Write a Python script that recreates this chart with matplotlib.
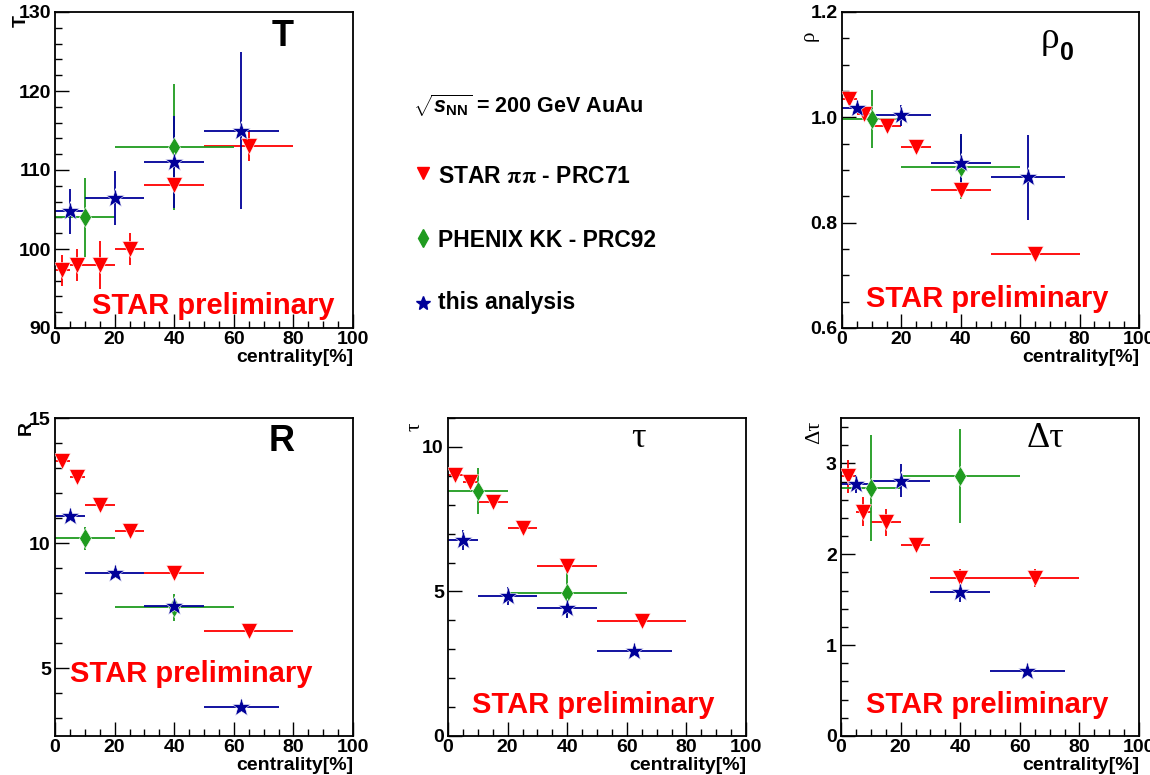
import numpy as np
import matplotlib
matplotlib.use("Agg")
import matplotlib.pyplot as plt
from matplotlib.ticker import MultipleLocator

plt.rcParams['font.family'] = 'Liberation Sans'
plt.rcParams['font.weight'] = 'bold'
plt.rcParams['mathtext.fontset'] = 'custom'
plt.rcParams['mathtext.rm'] = 'Liberation Sans:bold'
plt.rcParams['mathtext.it'] = 'Liberation Sans:italic:bold'
plt.rcParams['mathtext.bf'] = 'Liberation Sans:bold'

# centrality bins of each data set
star_edges = [0, 5, 10, 20, 30, 50, 80]
phenix_edges = [0, 20, 60]
ana_edges = [0, 10, 30, 50, 75]

# STAR pi-pi (PRC71)
star_T = [97.3, 98.0, 98.0, 100.0, 108.1, 113.1]
star_T_err = [2.0, 2.0, 3.0, 2.0, 1.0, 2.0]
star_rho = [1.035, 1.006, 0.983, 0.943, 0.862, 0.741]
star_rho_err = [0.01, 0.01, 0.01, 0.01, 0.01, 0.01]
star_R = [13.3, 12.65, 11.52, 10.5, 8.8, 6.5]
star_R_err = [0.2, 0.2, 0.2, 0.2, 0.2, 0.2]
star_tau = [9.04, 8.77, 8.10, 7.20, 5.89, 3.99]
star_tau_err = [0.2, 0.2, 0.2, 0.2, 0.2, 0.2]
star_dtau = [2.86, 2.47, 2.35, 2.10, 1.74, 1.735]
star_dtau_err = [0.18, 0.16, 0.15, 0.05, 0.10, 0.10]

# PHENIX K-K (PRC92)
phenix_T = [104.0, 112.9]
phenix_T_err = [5.0, 8.0]
phenix_rho = [0.997, 0.905]
phenix_rho_err = [0.055, 0.06]
phenix_R = [10.19, 7.44]
phenix_R_err = [0.45, 0.55]
phenix_tau = [8.47, 4.95]
phenix_tau_err = [0.8, 0.85]
phenix_dtau = [2.73, 2.86]
phenix_dtau_err = [0.58, 0.52]

# this analysis
ana_T = [104.8, 106.5, 111.05, 115.0]
ana_T_err = [2.85, 3.4, 5.8, 9.9]
ana_rho = [1.018, 1.004, 0.913, 0.886]
ana_rho_err = [0.01, 0.02, 0.055, 0.08]
ana_R = [11.1, 8.8, 7.5, 3.47]
ana_R_err = [0.15, 0.15, 0.2, 0.15]
ana_tau = [6.78, 4.84, 4.43, 2.94]
ana_tau_err = [0.35, 0.3, 0.35, 0.1]
ana_dtau = [2.77, 2.81, 1.58, 0.71]
ana_dtau_err = [0.1, 0.18, 0.11, 0.03]

RED = '#ff0000'
GREEN = '#1f9b1f'
BLUE = '#000099'

W, H = 1150, 775
fig = plt.figure(figsize=(W / 100, H / 100), dpi=100)


def px_axes(x0, y0, x1, y1):
    return fig.add_axes([x0 / W, 1 - y1 / H, (x1 - x0) / W, (y1 - y0) / H])


def centers(edges):
    e = np.asarray(edges, float)
    return (e[:-1] + e[1:]) / 2, (e[1:] - e[:-1]) / 2


def draw(ax, sets):
    for edges, y, yerr, color, marker, ms in sets:
        x, xerr = centers(edges)
        ax.errorbar(x, y, xerr=xerr, yerr=yerr, fmt='none', ecolor=color,
                    elinewidth=1.3, capsize=0, zorder=2)
        ax.plot(x, y, ls='none', marker=marker, ms=ms, color=color,
                mec='white', mew=0.4, zorder=3)


def style(ax, ylim, major, minor, fmt):
    ax.set_xlim(0, 100)
    ax.set_ylim(*ylim)
    ax.xaxis.set_major_locator(MultipleLocator(20))
    ax.xaxis.set_minor_locator(MultipleLocator(5))
    ax.yaxis.set_major_locator(MultipleLocator(major))
    ax.yaxis.set_minor_locator(MultipleLocator(minor))
    ax.yaxis.set_major_formatter(plt.FuncFormatter(lambda v, p: fmt.format(v)))
    ax.tick_params(which='both', direction='in', top=False, right=False,
                   width=1.0, labelsize=14)
    ax.tick_params(which='major', length=10)
    ax.tick_params(which='minor', length=5)
    ax.tick_params(axis='x', pad=2)
    ax.tick_params(axis='y', pad=3)
    for s in ax.spines.values():
        s.set_linewidth(1.3)
    ax.text(1.0, -0.066, 'centrality[%]', transform=ax.transAxes,
            ha='right', va='top', fontsize=14, fontweight='bold')


def ylab(ax, x, y, text, **kw):
    ax.text(x, y, text, transform=ax.transAxes, rotation=90,
            rotation_mode='anchor', ha='right', va='bottom', **kw)


def prelim(ax, x, y):
    ax.text(x, y, 'STAR preliminary', transform=ax.transAxes, color=RED,
            fontsize=21, fontweight='bold', ha='left', va='baseline')


def series(star_y, star_e, phx_y, phx_e, ana_y, ana_e):
    return [(star_edges, star_y, star_e, RED, 'v', 12),
            (phenix_edges, phx_y, phx_e, GREEN, 'd', 10),
            (ana_edges, ana_y, ana_e, BLUE, '*', 14)]


serif = dict(family='Liberation Serif', fontweight='normal')

# T
ax = px_axes(55, 12, 353, 328)
style(ax, (90, 130), 10, 2, '{:.0f}')
draw(ax, series(star_T, star_T_err, phenix_T, phenix_T_err, ana_T, ana_T_err))
ax.text(0.765, 0.924, 'T', transform=ax.transAxes, fontsize=26,
        ha='center', va='center')
ylab(ax, -0.085, 0.99, 'T', fontsize=14)
prelim(ax, 0.124, 0.044)

# rho_0
ax = px_axes(842, 12, 1139, 328)
style(ax, (0.6, 1.2), 0.2, 0.05, '{:.1f}')
draw(ax, series(star_rho, star_rho_err, phenix_rho, phenix_rho_err,
                ana_rho, ana_rho_err))
ax.text(0.70, 0.915, 'ρ', transform=ax.transAxes, fontsize=27,
        ha='center', va='center', **serif)
ax.text(0.757, 0.87, '0', transform=ax.transAxes, fontsize=18,
        ha='center', va='center')
ylab(ax, -0.08, 0.94, 'ρ', fontsize=15, **serif)
prelim(ax, 0.081, 0.066)

# R
ax = px_axes(55, 418, 353, 736)
style(ax, (2.3, 15), 5, 1, '{:.0f}')
draw(ax, series(star_R, star_R_err, phenix_R, phenix_R_err, ana_R, ana_R_err))
ax.text(0.762, 0.925, 'R', transform=ax.transAxes, fontsize=26,
        ha='center', va='center')
ylab(ax, -0.067, 0.99, 'R', fontsize=14)
prelim(ax, 0.05, 0.17)

# tau
ax = px_axes(448, 418, 746, 736)
style(ax, (0, 11), 5, 1, '{:.0f}')
draw(ax, series(star_tau, star_tau_err, phenix_tau, phenix_tau_err,
                ana_tau, ana_tau_err))
ax.text(0.638, 0.937, 'τ', transform=ax.transAxes, fontsize=26,
        ha='center', va='center', **serif)
ylab(ax, -0.08, 0.985, 'τ', fontsize=15, **serif)
prelim(ax, 0.08, 0.072)

# delta tau
ax = px_axes(841, 418, 1139, 736)
style(ax, (0, 3.5), 1, 0.2, '{:.0f}')
draw(ax, series(star_dtau, star_dtau_err, phenix_dtau, phenix_dtau_err,
                ana_dtau, ana_dtau_err))
ax.text(0.685, 0.937, 'Δτ', transform=ax.transAxes, fontsize=26,
        ha='center', va='center', **serif)
ylab(ax, -0.058, 0.99, 'Δτ', fontsize=16, **serif)
prelim(ax, 0.084, 0.072)

# legend in the free middle slot
leg = fig.add_axes([0, 0, 1, 1])
leg.set_xlim(0, W)
leg.set_ylim(H, 0)
leg.axis('off')
fig.text(413 / W, 1 - 113 / H, r'$\sqrt{s_{\mathrm{NN}}}$ = 200 GeV AuAu',
         fontsize=15.5, fontweight='bold', ha='left', va='baseline',
         math_fontfamily='custom')
keys = [('v', RED, 8.5, 173, 183, r'STAR $\mathrm{\pi\pi}$ - PRC71'),
        ('d', GREEN, 9, 238, 247, 'PHENIX KK - PRC92'),
        ('*', BLUE, 10, 303, 309, 'this analysis')]
for marker, color, ms, ym, yb, label in keys:
    leg.plot([423], [ym], ls='none', marker=marker, ms=ms, color=color)
    fig.text(438 / W, 1 - yb / H, label, fontsize=16.5, fontweight='bold',
             ha='left', va='baseline', math_fontfamily='stix')

fig.savefig('out.png', dpi=100)
